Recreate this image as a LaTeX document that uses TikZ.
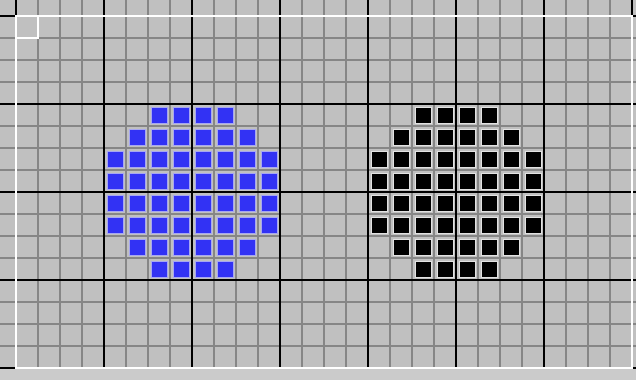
\documentclass[tikz,border=0pt]{standalone}
\usepackage{tikz}

\definecolor{panelgray}{HTML}{C0C0C0}
\definecolor{stripgray}{HTML}{CBCBCB}
\definecolor{gridgray}{HTML}{868686}
\definecolor{pixblue}{HTML}{3232F4}
\definecolor{rimblue}{HTML}{A6A6F2}
\definecolor{rimgray}{HTML}{E2E2E2}

\begin{document}
\begin{tikzpicture}[x=0.025cm, y=-0.025cm, minor/.style={draw=gridgray, line width=1.3pt}, major/.style={draw=black, line width=1.4pt}, frame/.style={draw=white, line width=1.4pt}, bluepx/.style={fill=pixblue, draw=rimblue, line width=0.5pt}, blackpx/.style={fill=black, draw=rimgray, line width=0.5pt}]
\useasboundingbox (0,0) rectangle (636,380);
\fill[panelgray] (0,0) rectangle (636,368);
\fill[stripgray] (0,368) rectangle (636,380);
% minor grid
\foreach \i in {0,...,28} \draw[minor] (16+22*\i,0) -- (16+22*\i,368);
\foreach \j in {1,...,16} \draw[minor] (0,16+22*\j) -- (636,16+22*\j);
% major grid
\foreach \i in {0,...,7} \draw[major] (16+88*\i,0) -- (16+88*\i,368);
\foreach \j in {0,...,4} \draw[major] (0,16+88*\j) -- (636,16+88*\j);
% frame
\draw[frame] (16,16) rectangle (632,368);
\draw[frame] (16,16) rectangle (38,38);
% two discs of cells
\foreach \ox/\sty in {104/bluepx,368/blackpx}
  \foreach \r/\a/\b in {0/2/5,1/1/6,2/0/7,3/0/7,4/0/7,5/0/7,6/1/6,7/2/5}
    \foreach \c in {\a,...,\b}
      \draw[\sty] (\ox+22*\c+3,104+22*\r+3) rectangle (\ox+22*\c+19,104+22*\r+19);
\end{tikzpicture}
\end{document}
